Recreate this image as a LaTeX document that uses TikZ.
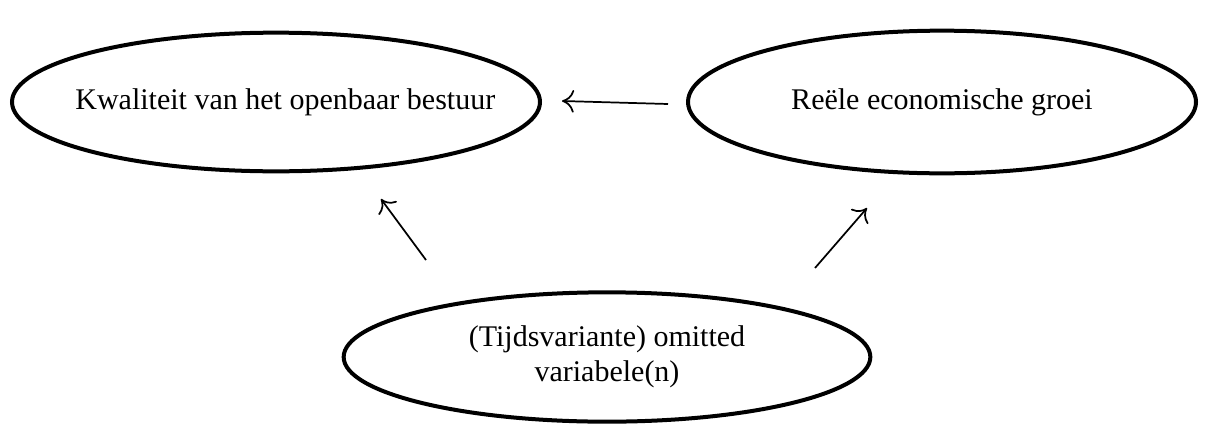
\documentclass[tikz,border=0pt]{standalone}
\usepackage{fontspec}
\setmainfont{Liberation Serif}
\usetikzlibrary{shapes.geometric,arrows.meta}
\begin{document}
\begin{tikzpicture}[x=0.75pt,y=-0.75pt,
  oval/.style={ellipse,draw=black,line width=3pt,inner xsep=-120pt,inner ysep=-20pt,align=center,font=\fontsize{22.5}{26}\selectfont},
  conn/.style={line width=1.3pt,-{To[length=9pt,width=17pt,line width=1.3pt]}}]
\useasboundingbox (0,0) rectangle (1209,425);
\node[oval,minimum width=396pt,minimum height=104pt] (kw) at (276,102) {\hspace*{14pt}Kwaliteit van het openbaar bestuur};
\node[oval,minimum width=381pt,minimum height=107pt] (re) at (942,102) {Reële economische groei};
\node[oval,minimum width=395pt,minimum height=97pt] (om) at (607,357) {(Tijdsvariante) omitted\\variabele(n)};
\coordinate (a1s) at (668,104);
\coordinate (a1e) at (562,101);
\coordinate (a2s) at (426,260);
\coordinate (a2e) at (381,199);
\coordinate (a3s) at (815,268);
\coordinate (a3e) at (867,208);
\draw[conn] (a1s) -- (a1e);
\draw[conn] (a2s) -- (a2e);
\draw[conn] (a3s) -- (a3e);
\end{tikzpicture}
\end{document}
